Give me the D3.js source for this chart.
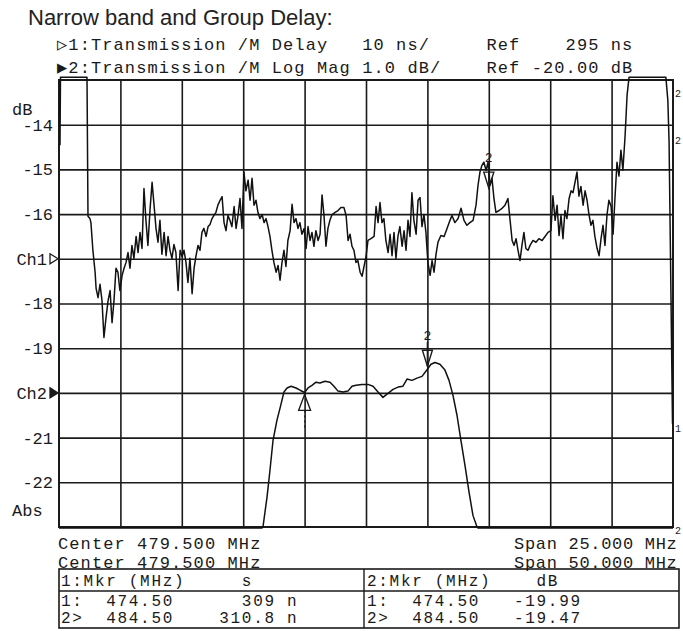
<!DOCTYPE html>
<html>
<head>
<meta charset="utf-8">
<script src="https://cdn.jsdelivr.net/npm/d3@7"></script>
<style>
  body { margin: 0; background: #fff; }
  text { white-space: pre; }
</style>
</head>
<body>
<script>
// channel 1: group delay, span 25 MHz around 479.5 MHz, 10 ns/div, ref 295 ns
const delayTrace = [
  [467.04,320.4],[467.06,335.6],[468.14,335.6],[468.18,304.5],[468.26,304.0],[468.30,303.1],[468.38,296.9],[468.47,292.0],
  [468.51,288.4],[468.59,286.3],[468.67,289.3],[468.75,285.7],[468.83,277.4],[468.91,281.6],[469.00,285.7],[469.08,287.9],
  [469.16,280.7],[469.24,285.7],[469.32,292.9],[469.40,292.0],[469.48,287.9],[469.57,291.3],[469.65,292.9],[469.73,294.2],
  [469.81,296.4],[469.89,292.9],[469.97,298.0],[470.05,295.1],[470.14,300.0],[470.22,296.4],[470.30,300.9],[470.38,297.3],
  [470.46,310.7],[470.54,303.6],[470.62,298.0],[470.71,306.3],[470.79,312.1],[470.87,307.0],[470.95,301.8],[471.03,298.7],
  [471.11,303.6],[471.19,296.0],[471.28,300.9],[471.36,295.7],[471.44,300.0],[471.52,296.9],[471.60,295.1],[471.68,298.2],
  [471.76,296.4],[471.85,287.9],[471.93,296.9],[472.01,295.5],[472.09,296.9],[472.17,294.2],[472.25,289.7],[472.33,295.1],
  [472.42,287.2],[472.50,292.9],[472.58,295.7],[472.66,298.0],[472.74,296.9],[472.82,300.9],[472.90,301.8],[472.99,300.0],
  [473.07,302.2],[473.15,302.7],[473.23,304.0],[473.31,304.7],[473.39,305.4],[473.47,307.0],[473.56,308.1],[473.64,308.9],
  [473.72,303.1],[473.80,301.3],[473.88,304.7],[473.96,303.6],[474.04,302.2],[474.13,306.7],[474.21,301.8],[474.29,304.7],
  [474.37,308.5],[474.45,301.8],[474.53,314.4],[474.61,310.2],[474.70,312.6],[474.78,308.1],[474.86,313.0],[474.94,307.0],
  [475.02,308.1],[475.10,305.4],[475.18,304.0],[475.27,304.9],[475.35,303.1],[475.43,304.0],[475.51,302.2],[475.59,300.0],
  [475.67,296.9],[475.75,294.2],[475.84,292.0],[475.92,293.5],[476.00,290.2],[476.08,294.2],[476.16,296.9],[476.24,293.3],
  [476.32,299.1],[476.41,301.3],[476.49,307.2],[476.57,303.1],[476.65,304.0],[476.73,301.8],[476.81,303.1],[476.89,300.5],
  [476.98,301.8],[477.06,297.3],[477.14,302.2],[477.22,299.1],[477.30,300.9],[477.38,297.8],[477.46,301.3],[477.55,299.1],
  [477.63,300.5],[477.71,309.3],[477.79,304.7],[477.87,297.8],[477.95,301.8],[478.03,303.6],[478.12,304.9],[478.24,305.4],
  [478.36,305.8],[478.48,306.5],[478.60,306.5],[478.69,304.7],[478.77,299.1],[478.85,300.5],[478.93,297.8],[479.01,296.9],
  [479.09,294.2],[479.17,294.6],[479.26,292.0],[479.34,291.1],[479.42,293.3],[479.50,295.5],[479.58,299.1],[479.70,299.5],
  [479.83,300.0],[479.91,306.7],[479.99,303.1],[480.07,307.6],[480.15,303.1],[480.23,304.0],[480.31,299.1],[480.40,296.4],
  [480.48,300.5],[480.56,295.7],[480.64,300.9],[480.72,295.1],[480.80,300.0],[480.88,302.2],[480.97,297.8],[481.05,301.3],
  [481.13,296.9],[481.21,303.6],[481.29,300.0],[481.37,309.8],[481.45,303.6],[481.54,300.5],[481.62,308.1],[481.70,308.7],
  [481.78,302.2],[481.86,304.9],[481.94,300.9],[482.02,294.2],[482.11,291.3],[482.19,294.6],[482.27,292.0],[482.35,296.0],
  [482.43,298.7],[482.55,300.2],[482.68,300.0],[482.80,301.8],[482.92,303.6],[483.00,304.7],[483.12,303.1],[483.25,304.0],
  [483.37,306.3],[483.49,303.6],[483.61,302.5],[483.73,303.1],[483.86,303.6],[483.98,307.0],[484.06,311.4],[484.14,314.4],
  [484.22,315.9],[484.30,316.6],[484.39,314.8],[484.47,316.6],[484.55,311.4],[484.63,313.0],[484.71,308.5],[484.79,305.4],
  [484.92,305.8],[485.04,306.3],[485.16,307.0],[485.28,308.5],[485.36,304.0],[485.45,299.1],[485.53,298.0],[485.61,299.5],
  [485.69,296.9],[485.77,294.6],[485.85,298.0],[485.93,300.9],[486.01,297.3],[486.10,296.9],[486.18,298.0],[486.30,299.1],
  [486.42,298.7],[486.54,299.5],[486.67,299.1],[486.79,300.0],[486.91,300.9],[487.03,301.3],[487.11,309.1],[487.20,303.6],
  [487.28,307.0],[487.36,300.2],[487.44,304.7],[487.52,299.5],[487.60,305.8],[487.68,304.0],[487.77,308.5],[487.85,310.2],
  [487.93,309.8],[488.01,312.1],[488.09,314.4],[488.17,309.0],[488.25,311.2],[488.34,307.0],[488.42,310.2],[488.50,308.1],
  [488.58,304.9],[488.66,302.5],[488.74,303.6],[488.82,300.0],[488.91,297.3],[488.99,295.7],[489.07,299.5],[489.15,302.5],
  [489.23,298.0],[489.31,304.7],[489.39,308.1],[489.48,306.7],[489.56,300.5],[489.64,308.9],[489.72,316.6],[489.80,313.5],
  [489.88,319.3],[489.96,314.8],[490.05,322.6],[490.13,331.6],[490.21,335.6],[491.71,335.6],[491.79,330.5],[491.84,321.2],
  [491.92,285.7],[491.98,258.1]
];

// channel 2: log magnitude, span 50 MHz around 479.5 MHz, 1 dB/div, ref -20 dB
const magTrace = [
  [454.5,-23.02],[471.03,-23.02],[471.11,-23.0],[471.44,-22.33],[471.68,-21.73],[471.93,-21.06],[472.25,-20.61],[472.50,-20.34],
  [472.82,-19.98],[473.07,-19.89],[473.40,-19.85],[473.80,-19.89],[474.13,-19.94],[474.50,-19.99],[474.78,-19.89],[475.10,-19.83],
  [475.43,-19.76],[475.75,-19.78],[476.16,-19.74],[476.57,-19.76],[476.89,-19.85],[477.22,-19.96],[477.63,-19.98],[478.03,-19.96],
  [478.36,-19.85],[478.69,-19.83],[479.17,-19.81],[479.66,-19.81],[480.07,-19.85],[480.48,-19.98],[480.88,-20.10],[481.29,-20.01],
  [481.70,-19.92],[482.11,-19.87],[482.51,-19.85],[482.84,-19.69],[483.25,-19.72],[483.65,-19.67],[484.06,-19.63],[484.50,-19.47],
  [484.79,-19.36],[485.12,-19.32],[485.52,-19.36],[485.93,-19.49],[486.26,-19.72],[486.58,-20.05],[486.91,-20.50],[487.23,-21.06],
  [487.56,-21.62],[487.89,-22.22],[488.21,-22.74],[488.54,-23.0],[488.62,-23.02],[504.5,-23.02]
];

const markerFreq = [474.5, 484.5];
const markerDelay = [309, 310.8];
const markerMag = [-19.99, -19.47];

const dbTicks = [-14, -15, -16, -17, -18, -19, -20, -21, -22];
const dbTickLabels = ["-14", "-15", "-16", "Ch1", "-18", "-19", "Ch2", "-21", "-22"];
const delayGridMHz = [469.5, 472, 474.5, 477, 479.5, 482, 484.5, 487, 489.5];

const headerLines = [
  "\u25B71:Transmission /M Delay   10 ns/     Ref    295 ns",
  "\u25B62:Transmission /M Log Mag 1.0 dB/    Ref -20.00 dB"
];
const footerLeft = ["Center 479.500 MHz", "Center 479.500 MHz"];
const footerRight = ["Span 25.000 MHz", "Span 50.000 MHz"];
const tableLeft = ["1:Mkr (MHz)     s", "1:  474.50      309 n", "2>  484.50    310.8 n"];
const tableRight = ["2:Mkr (MHz)    dB", "1:  474.50   -19.99", "2>  484.50   -19.47"];

const W = 683, H = 631;
const plotL = 59, plotR = 673, plotT = 80, plotB = 527;
const MONO = "'Liberation Mono', 'DejaVu Sans Mono', monospace";
const INK = "#1a1a1a";

const svg = d3.select("body").append("svg").attr("width", W).attr("height", H);
svg.append("rect").attr("width", W).attr("height", H).attr("fill", "#fff");

const x1 = d3.scaleLinear().domain([467, 492]).range([plotL, plotR]);
const x2 = d3.scaleLinear().domain([454.5, 504.5]).range([plotL, plotR]);
const y1 = d3.scaleLinear().domain([235, 335]).range([plotB, plotT]);
const y2 = d3.scaleLinear().domain([-23, -13]).range([plotB, plotT]);

function mono(g, x, y, str, size, spacing) {
  return g.append("text").attr("x", x).attr("y", y)
    .attr("font-family", MONO).attr("font-size", size)
    .attr("letter-spacing", spacing).attr("fill", INK).text(str);
}

// title
svg.append("text").attr("x", 28).attr("y", 25)
  .attr("font-family", "'Liberation Sans', Arial, sans-serif").attr("font-size", 22)
  .attr("fill", "#222").text("Narrow band and Group Delay:");

headerLines.forEach((s, i) => mono(svg, 57, 50 + i * 23, s, 17, 1.1));

// grid
const xGrid = svg.append("g").attr("transform", `translate(0,${plotB})`)
  .call(d3.axisBottom(x1).tickValues(delayGridMHz).tickSize(-(plotB - plotT)).tickFormat(""));
xGrid.select(".domain").remove();
xGrid.selectAll("line").attr("stroke", INK).attr("stroke-width", 1.6);

const yAxis = svg.append("g").attr("transform", `translate(${plotL},0)`)
  .call(d3.axisLeft(y2).tickValues(dbTicks).tickSize(-(plotR - plotL)).tickPadding(6)
    .tickFormat((d, i) => dbTickLabels[i]));
yAxis.select(".domain").remove();
yAxis.selectAll("line").attr("stroke", INK).attr("stroke-width", 1.6);
yAxis.selectAll("text").attr("font-family", MONO).attr("font-size", 17).attr("fill", INK)
  .attr("x", (d, i) => dbTickLabels[i].startsWith("Ch") ? -12 : -6);

// channel reference arrows
[[-17, "none"], [-20, INK]].forEach(([v, fill]) => {
  const yy = y2(v);
  svg.append("path").attr("d", `M${plotL - 9},${yy - 5}L${plotL - 1},${yy}L${plotL - 9},${yy + 5}Z`)
    .attr("fill", fill).attr("stroke", INK).attr("stroke-width", 1.3);
});

mono(svg, 12, 115, "dB", 17, 0);
mono(svg, 12, 516, "Abs", 17, 0);

svg.append("rect").attr("x", plotL).attr("y", plotT).attr("width", plotR - plotL).attr("height", plotB - plotT)
  .attr("fill", "none").attr("stroke", INK).attr("stroke-width", 2);

// traces
const line1 = d3.line().x(d => x1(d[0])).y(d => y1(d[1]));
const line2 = d3.line().x(d => x2(d[0])).y(d => y2(d[1]));
svg.append("path").datum(delayTrace).attr("d", line1)
  .attr("fill", "none").attr("stroke", "#111").attr("stroke-width", 1.5).attr("stroke-linejoin", "round");
svg.append("path").datum(magTrace).attr("d", line2)
  .attr("fill", "none").attr("stroke", "#111").attr("stroke-width", 1.5).attr("stroke-linejoin", "round");

// markers
function downMarker(x, y, label) {
  svg.append("line").attr("x1", x).attr("x2", x).attr("y1", y - 24).attr("y2", y)
    .attr("stroke", INK).attr("stroke-width", 1.4);
  svg.append("path").attr("d", `M${x - 5},${y - 16}L${x + 5},${y - 16}L${x},${y}Z`)
    .attr("fill", "none").attr("stroke", INK).attr("stroke-width", 1.4);
  mono(svg, x - 4, y - 26, label, 13, 0);
}
downMarker(x1(markerFreq[1]), y1(markerDelay[1]), "2");
downMarker(x2(markerFreq[1]), y2(markerMag[1]) - 3, "2");

const m1x = x2(markerFreq[0]), m1y = y2(markerMag[0]) + 2;
svg.append("path").attr("d", `M${m1x},${m1y}L${m1x + 6},${m1y + 16}L${m1x - 6},${m1y + 16}Z`)
  .attr("fill", "none").attr("stroke", INK).attr("stroke-width", 1.3);
svg.append("line").attr("x1", m1x).attr("x2", m1x).attr("y1", m1y + 16).attr("y2", m1y + 34)
  .attr("stroke", INK).attr("stroke-width", 1).attr("stroke-dasharray", "2,3");

// right edge reference labels
[["2", 675, 97], ["2", 675, 144], ["1", 675, 432], ["2", 675, 534]].forEach(([t, x, y]) => mono(svg, x, y, t, 10, 0));

// footer
footerLeft.forEach((s, i) => mono(svg, 58, 549 + i * 19, s, 17, 1.1));
footerRight.forEach((s, i) => mono(svg, 514, 549 + i * 19, s, 17, 0.7));

const tb = svg.append("g");
tb.append("rect").attr("x", 59).attr("y", 569).attr("width", 620).attr("height", 59)
  .attr("fill", "none").attr("stroke", INK).attr("stroke-width", 1.6);
tb.append("line").attr("x1", 59).attr("x2", 679).attr("y1", 591).attr("y2", 591).attr("stroke", INK).attr("stroke-width", 1.4);
tb.append("line").attr("x1", 364).attr("x2", 364).attr("y1", 569).attr("y2", 628).attr("stroke", INK).attr("stroke-width", 1.4);
const rowY = [586, 606, 623];
tableLeft.forEach((s, i) => mono(tb, 61, rowY[i], s, 16, 1.7));
tableRight.forEach((s, i) => mono(tb, 367, rowY[i], s, 16, 1.7));
</script>
</body>
</html>
